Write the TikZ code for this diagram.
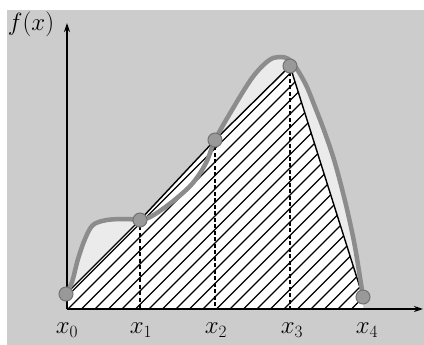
\documentclass[tikz,border=0pt]{standalone}
\usetikzlibrary{arrows.meta}
\begin{document}
\begin{tikzpicture}[x=1pt,y=-1pt,
  curve/.style={line width=4.5pt,draw=black!45,line cap=round},
  knot/.style={circle,fill=black!40,draw=black!55,line width=1pt,minimum size=14pt,inner sep=0pt},
  axis/.style={line width=1.8pt,-{Stealth[length=9pt,width=6pt]}},
  chord/.style={line width=1.4pt},
  hatch/.style={line width=1.4pt},
  drop/.style={line width=1.1pt,dash pattern=on 4pt off 2.5pt},
  lbl/.style={font=\fontsize{24}{26}\selectfont,inner sep=0pt}]
\useasboundingbox (0,0) rectangle (424,345);
\fill[white] (0,0) rectangle (424,345);
\fill[black!20] (7,10) rectangle (424,345);
% points
\coordinate (P0) at (66,294);
\coordinate (P1) at (140,220);
\coordinate (P2) at (215,140);
\coordinate (P3) at (290,66);
\coordinate (P4) at (363,297);
\coordinate (B0) at (66,309);
\coordinate (B1) at (140,309);
\coordinate (B2) at (215,309);
\coordinate (B3) at (290,309);
\coordinate (B4) at (363,309);
\coordinate (O) at (67,309);
\coordinate (YT) at (67,23);
\coordinate (XT) at (423,309);
% lighter area under the curve
\fill[black!8] (B0) -- plot[smooth,tension=0.55] coordinates {(66,294) (72,282) (78,259) (85,239) (93,225) (107,220) (127,219) (140,220) (152,216) (172,202) (192,184) (206,163) (215,140) (232,110) (252,78) (268,61) (279,57) (291,61) (305,83) (315,107) (325,133) (335,163) (346,205) (355,247) (363,297)} -- (B4) -- cycle;
\fill[white] (B0) -- (P0) -- (P1) -- (P2) -- (P3) -- (P4) -- (B4) -- cycle;
% hatching
\begin{scope}
\clip (B0) -- (P0) -- (P1) -- (P2) -- (P3) -- (P4) -- (B4) -- cycle;
\foreach \k in {350,363.5,...,690} {
  \draw[hatch] (\k-400,400) -- (\k+100,-100);
}
\end{scope}
\draw[chord] (P0) -- (P1) -- (P2) -- (P3) -- (P4);
\draw[drop] (P1) -- (B1);
\draw[drop] (P2) -- (B2);
\draw[drop] (P3) -- (B3);
% axes
\draw[axis] (O) -- (YT);
\draw[axis] (O) -- (XT);
% curve
\draw[curve] plot[smooth,tension=0.55] coordinates {(66,294) (72,282) (78,259) (85,239) (93,225) (107,220) (127,219) (140,220) (152,216) (172,202) (192,184) (206,163) (215,140) (232,110) (252,78) (268,61) (279,57) (291,61) (305,83) (315,107) (325,133) (335,163) (346,205) (355,247) (363,297)};
% knots
\node[knot] (k0) at (P0) {};
\node[knot] (k1) at (P1) {};
\node[knot] (k2) at (P2) {};
\node[knot] (k3) at (P3) {};
\node[knot] (k4) at (P4) {};
% labels
\node[lbl] (fx) at (31,24) {$f(x)$};
\node[lbl] (l0) at (67,330) {$x_0$};
\node[lbl] (l1) at (141,330) {$x_1$};
\node[lbl] (l2) at (216,330) {$x_2$};
\node[lbl] (l3) at (292,330) {$x_3$};
\node[lbl] (l4) at (367,330) {$x_4$};
\end{tikzpicture}
\end{document}
